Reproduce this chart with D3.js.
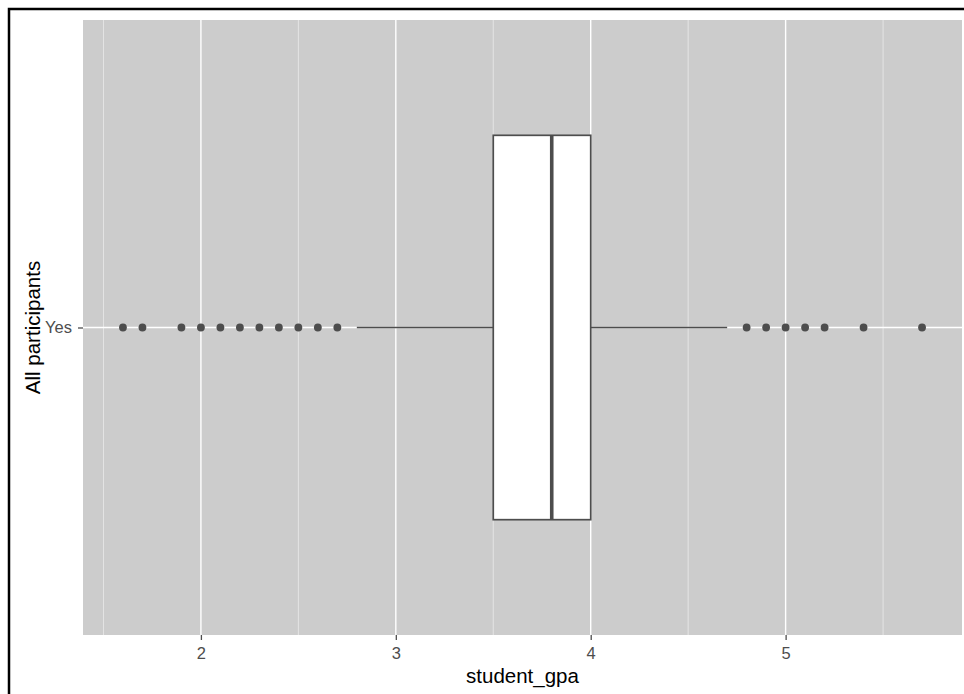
<!DOCTYPE html>
<html><head><meta charset="utf-8">
<script src="https://cdn.jsdelivr.net/npm/d3@7"></script>
<style>body{margin:0;background:#fff;} svg{display:block;font-family:"Liberation Sans",Arial,sans-serif;}</style>
</head><body>
<script>
const categories = ["Yes"];
const boxLow = [2.8];
const boxQ1 = [3.5];
const boxMedian = [3.8];
const boxQ3 = [4.0];
const boxHigh = [4.7];
const outliers = [[1.6,1.7,1.9,2.0,2.1,2.2,2.3,2.4,2.5,2.6,2.7,4.8,4.9,5.0,5.1,5.2,5.4,5.7]];
const xTicks = [2,3,4,5];
const xMinor = [1.5,2.5,3.5,4.5,5.5];
const xTitle = "student_gpa";
const yTitle = "All participants";

const W = 964, H = 694;
const svg = d3.select("body").append("svg").attr("width", W).attr("height", H);
svg.append("rect").attr("x",0).attr("y",0).attr("width",W).attr("height",H).attr("fill","#fff");
svg.append("rect").attr("x",9).attr("y",9).attr("width",W+10).attr("height",H+10)
  .attr("fill","none").attr("stroke","#000").attr("stroke-width",2.5);

const pl = 83, pr = 962, pt = 20, pb = 635;
const x = d3.scaleLinear().domain([1.395, 5.905]).range([pl, pr]);
const yc = d3.scalePoint().domain(categories).range([pt, pb]).padding(0.5);
const unit = (pb - pt) / 1.2;

svg.append("rect").attr("x",pl).attr("y",pt).attr("width",pr-pl).attr("height",pb-pt).attr("fill","#cccccc");
const g = svg.append("g");
g.selectAll(".minor").data(xMinor).join("line")
  .attr("x1",d=>x(d)).attr("x2",d=>x(d)).attr("y1",pt).attr("y2",pb)
  .attr("stroke","#ebebeb").attr("stroke-width",0.8);
g.selectAll(".major").data(xTicks).join("line")
  .attr("x1",d=>x(d)).attr("x2",d=>x(d)).attr("y1",pt).attr("y2",pb)
  .attr("stroke","#fff").attr("stroke-width",1.4);
g.selectAll(".hmajor").data(categories).join("line")
  .attr("x1",pl).attr("x2",pr).attr("y1",d=>yc(d)).attr("y2",d=>yc(d))
  .attr("stroke","#fff").attr("stroke-width",1.4);

const col = "#4d4d4d";
categories.forEach((c,i)=>{
  const cy = yc(c);
  const bh = unit*0.75;
  g.append("line").attr("x1",x(boxLow[i])).attr("x2",x(boxQ1[i])).attr("y1",cy).attr("y2",cy)
    .attr("stroke",col).attr("stroke-width",1.7);
  g.append("line").attr("x1",x(boxQ3[i])).attr("x2",x(boxHigh[i])).attr("y1",cy).attr("y2",cy)
    .attr("stroke",col).attr("stroke-width",1.7);
  g.append("rect").attr("x",x(boxQ1[i])).attr("y",cy-bh/2).attr("width",x(boxQ3[i])-x(boxQ1[i])).attr("height",bh)
    .attr("fill","#fff").attr("stroke",col).attr("stroke-width",1.7);
  g.append("line").attr("x1",x(boxMedian[i])).attr("x2",x(boxMedian[i])).attr("y1",cy-bh/2).attr("y2",cy+bh/2)
    .attr("stroke",col).attr("stroke-width",3.6);
  g.selectAll(".out"+i).data(outliers[i]).join("circle")
    .attr("cx",d=>x(d)).attr("cy",cy).attr("r",3.9).attr("fill",col);
});

// axes
const xa = svg.append("g").attr("transform",`translate(0,${pb})`)
  .call(d3.axisBottom(x).tickValues(xTicks).tickFormat(d3.format("d")).tickSize(5).tickPadding(7));
xa.select(".domain").remove();
xa.selectAll("line").attr("stroke","#4d4d4d").attr("stroke-width",1.3);
xa.selectAll("text").attr("fill","#4d4d4d").style("font-size","16.5px");

const ya = svg.append("g").attr("transform",`translate(${pl},0)`)
  .call(d3.axisLeft(yc).tickSize(5).tickPadding(6));
ya.select(".domain").remove();
ya.selectAll("line").attr("stroke","#4d4d4d").attr("stroke-width",1.3);
ya.selectAll("text").attr("fill","#4d4d4d").style("font-size","16.5px");

svg.append("text").attr("x",(pl+pr)/2).attr("y",683).attr("text-anchor","middle")
  .style("font-size","20.5px").attr("fill","#000").text(xTitle);
svg.append("text").attr("transform",`translate(40,${(pt+pb)/2}) rotate(-90)`).attr("text-anchor","middle")
  .style("font-size","20.5px").attr("fill","#000").text(yTitle);
</script>
</body></html>
